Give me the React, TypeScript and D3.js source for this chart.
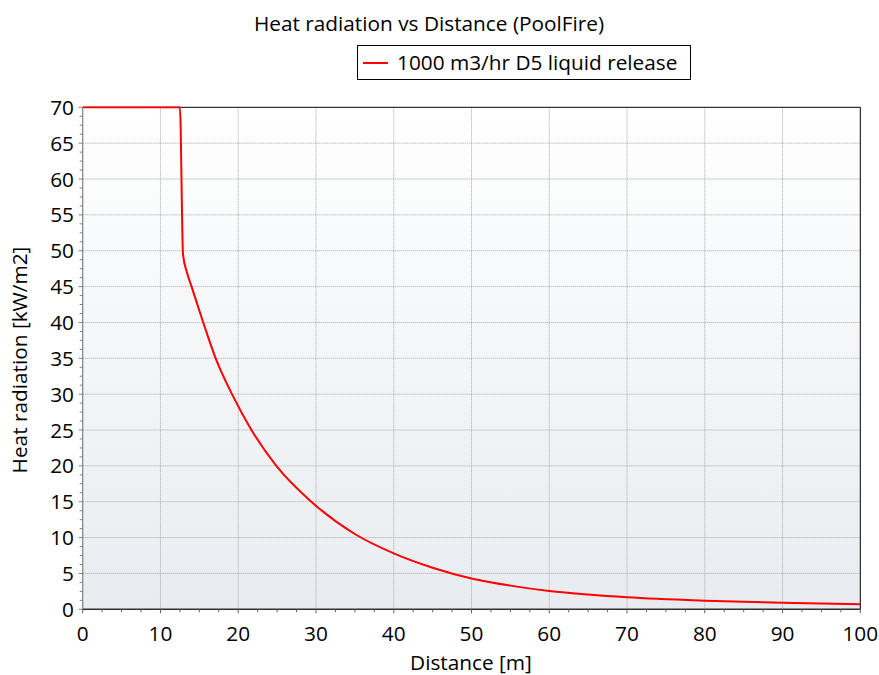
import React from "react";
import * as d3 from "d3";

const distance = [0, 12.5, 12.9, 13.4, 14.0, 15.5, 17.1, 19.2, 21.7, 24.9, 29.4, 35, 40, 45, 50, 55, 60, 65, 70, 80, 90, 100];
const radiation = [70, 70, 49.5, 47, 45, 40, 35, 30, 25, 20, 15, 10.5, 7.8, 5.8, 4.3, 3.3, 2.55, 2.05, 1.67, 1.2, 0.9, 0.7];
const xTicks = [0, 10, 20, 30, 40, 50, 60, 70, 80, 90, 100];
const yTicks = [0, 5, 10, 15, 20, 25, 30, 35, 40, 45, 50, 55, 60, 65, 70];
const title = "Heat radiation vs Distance (PoolFire)";
const seriesName = "1000 m3/hr D5 liquid release";
const xTitle = "Distance [m]";
const yTitle = "Heat radiation [kW/m2]";

const W = 879, H = 675;
const L = 82.7, R = 860.3, T = 107.3, B = 609.3;
const FONT = "'Open Sans', 'Noto Sans', sans-serif";
const FS = 20.8;

export default function App() {
  const x = d3.scaleLinear().domain([0, 100]).range([L, R]);
  const y = d3.scaleLinear().domain([0, 70]).range([B, T]);
  const pts = distance.map((d, i) => [d, radiation[i]] as [number, number]);
  const line = d3.line<[number, number]>().x(d => x(d[0])).y(d => y(d[1])).curve(d3.curveMonotoneX);
  const xMinor = d3.range(0, 100.01, 2.5);
  const yMinor = d3.range(0, 70.01, 1.25);
  return (
    <svg width={W} height={H} style={{ position: "absolute", left: 0, top: 0, background: "#fff" }} fontFamily={FONT}>
      <defs>
        <linearGradient id="bg" x1="0" y1="0" x2="0" y2="1">
          <stop offset="0" stopColor="#ffffff" />
          <stop offset="1" stopColor="#e8ecf0" />
        </linearGradient>
        <clipPath id="clip"><rect x={L} y={T - 1} width={R - L} height={B - T + 1} /></clipPath>
      </defs>
      <rect x={L} y={T} width={R - L} height={B - T} fill="url(#bg)" />
      {xTicks.slice(1, -1).map(t => (
        <line key={"gx" + t} x1={x(t)} x2={x(t)} y1={T} y2={B} stroke="#a8a8a8" strokeDasharray="1,1" />
      ))}
      {yTicks.slice(1, -1).map(t => (
        <line key={"gy" + t} x1={L} x2={R} y1={y(t)} y2={y(t)} stroke="#a8a8a8" strokeDasharray="1,1" />
      ))}
      <line x1={L} x2={R} y1={T} y2={T} stroke="#000" strokeWidth={1} />
      <line x1={R} x2={R} y1={T} y2={B} stroke="#000" strokeWidth={1} />
      <path d={line(pts) || ""} fill="none" stroke="#ff0000" strokeWidth={2} clipPath="url(#clip)" />
      <line x1={L} x2={L} y1={T} y2={B} stroke="#808080" strokeWidth={1.2} />
      <line x1={L} x2={R} y1={B} y2={B} stroke="#303030" strokeWidth={1.5} />
      {xMinor.map(t => (
        <line key={"mx" + t} x1={x(t)} x2={x(t)} y1={B} y2={B + (t % 10 === 0 ? 4 : 3)} stroke="#606060" />
      ))}
      {yMinor.map(t => (
        <line key={"my" + t} x1={L - (t % 5 === 0 ? 4 : 3)} x2={L} y1={y(t)} y2={y(t)} stroke="#808080" />
      ))}
      {xTicks.map(t => (
        <text key={"lx" + t} x={x(t)} y={641} textAnchor="middle" fontSize={FS} fill="#000">{t}</text>
      ))}
      {yTicks.map(t => (
        <text key={"ly" + t} x={74} y={y(t) + 7.5} textAnchor="end" fontSize={FS} fill="#000">{t}</text>
      ))}
      <text x={429} y={31} textAnchor="middle" fontSize={FS} fill="#000">{title}</text>
      <rect x={357.5} y={45.5} width={333} height={34} fill="#fff" stroke="#000" />
      <line x1={363} x2={388} y1={63} y2={63} stroke="#ff0000" strokeWidth={2} />
      <text x={397} y={70} fontSize={FS} fill="#000">{seriesName}</text>
      <text x={471} y={670} textAnchor="middle" fontSize={FS} fill="#000">{xTitle}</text>
      <text transform={`translate(27,360) rotate(-90)`} textAnchor="middle" fontSize={FS} fill="#000">{yTitle}</text>
    </svg>
  );
}
